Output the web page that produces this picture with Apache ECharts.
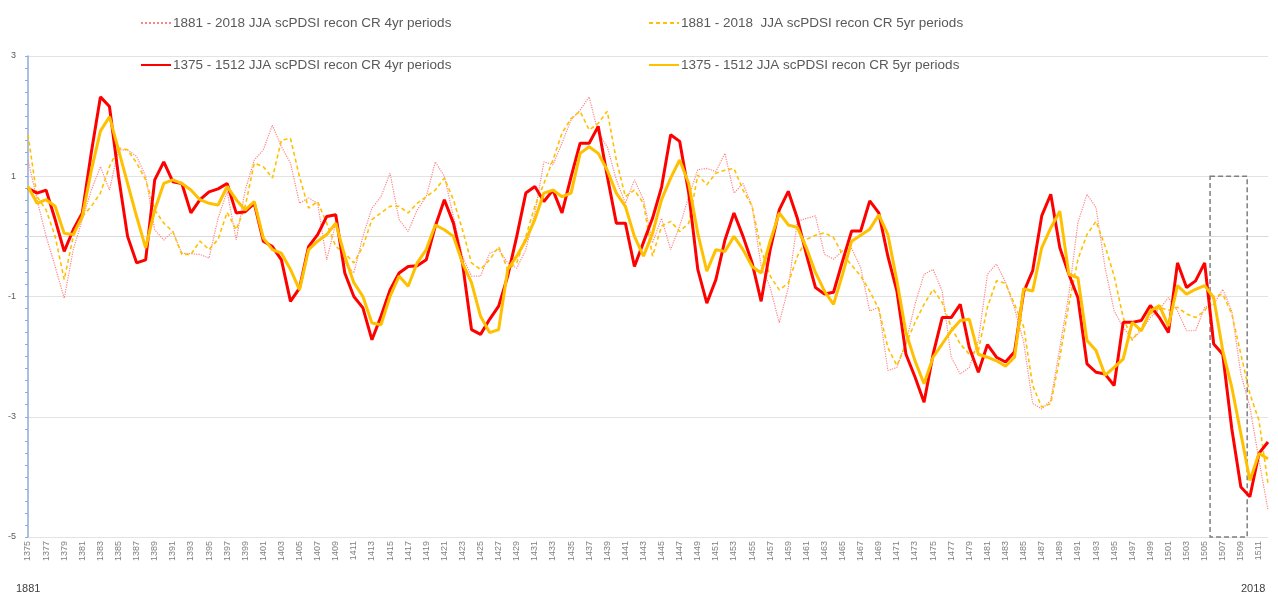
<!DOCTYPE html>
<html>
<head>
<meta charset="utf-8">
<script src="https://cdn.jsdelivr.net/npm/echarts@6/dist/echarts.min.js"></script>
<style>
  html, body { margin: 0; padding: 0; background: #fff; }
  #chart { width: 1278px; height: 598px; }
</style>
</head>
<body>
<div id="chart"></div>
<script>
// categories: 1375 .. 1512
var years = []
for (var y = 1375; y <= 1512; y++) years.push(String(y))

var yTicks = [-5, -3, -1, 1, 3]

// dashed highlight box, in category index units (1505.6 .. 1509.7) and y values
var boxX = [130.6, 134.7]
var boxY = [1, -5]

// 1881 - 2018 JJA scPDSI recon CR 4yr periods (dotted)
var modern4yr = [
  1.27, 0.61, 0.0, -0.5, -1.03, -0.22, 0.28, 0.77, 1.16, 0.77,
  1.44, 1.44, 1.33, 1.0, 0.11, -0.06, 0.08, -0.28, -0.29, -0.3,
  -0.36, 0.3, 0.75, -0.06, 0.77, 1.27, 1.44, 1.85, 1.49, 1.22,
  0.55, 0.64, 0.55, -0.39, 0.22, -0.44, -0.61, 0.0, 0.47, 0.66,
  1.05, 0.28, 0.08, 0.44, 0.66, 1.24, 1.0, 0.33, -0.33, -0.66,
  -0.66, -0.28, -0.22, -0.44, -0.53, -0.22, 0.39, 1.24, 1.19, 1.55,
  1.94, 2.1, 2.32, 1.72, 1.49, 0.94, 0.55, 0.94, 0.61, -0.11,
  0.3, -0.22, 0.17, 0.66, 1.11, 1.13, 1.08, 1.38, 0.72, 0.88,
  0.5, -0.5, -0.85, -1.44, -0.85, 0.25, 0.3, 0.34, -0.3, -0.38,
  -0.24, -0.2, -0.52, -1.24, -1.18, -2.23, -2.18, -1.76, -1.13, -0.63,
  -0.55, -0.91, -2.01, -2.29, -2.18, -1.73, -0.63, -0.46, -0.76, -1.2,
  -1.75, -2.78, -2.87, -2.73, -1.85, -0.96, 0.23, 0.70, 0.48, -0.52,
  -1.24, -1.51, -1.71, -1.57, -1.35, -1.21, -1.02, -1.24, -1.57, -1.57,
  -1.18, -1.13, -0.88, -1.24, -2.29, -2.84, -3.72, -4.55
]

// 1881 - 2018 JJA scPDSI recon CR 5yr periods (dashed)
var modern5yr = [
  1.69, 0.66, 0.44, 0.0, -0.72, 0.0, 0.33, 0.5, 0.72, 1.16,
  1.47, 1.44, 1.22, 0.94, 0.44, 0.22, 0.08, -0.3, -0.3, -0.08,
  -0.22, -0.05, 0.4, 0.11, 0.5, 1.22, 1.16, 0.97, 1.6, 1.63,
  0.99, 0.47, 0.58, 0.22, -0.17, -0.28, -0.44, -0.17, 0.28, 0.39,
  0.5, 0.5, 0.39, 0.55, 0.66, 0.77, 0.97, 0.61, 0.11, -0.44,
  -0.55, -0.39, -0.17, -0.55, -0.44, 0.0, 0.5, 0.88, 1.27, 1.72,
  1.96, 2.08, 1.77, 1.88, 2.08, 1.27, 0.66, 0.77, 0.55, -0.33,
  0.17, 0.25, 0.08, 0.22, 1.02, 0.86, 1.05, 1.1, 1.13, 0.77,
  0.5, -0.22, -0.66, -0.89, -0.78, -0.33, -0.05, 0.02, 0.06, -0.02,
  -0.3, -0.48, -0.66, -0.91, -1.21, -1.85, -2.15, -1.79, -1.43, -1.13,
  -0.88, -1.1, -1.51, -1.79, -1.96, -1.9, -1.18, -0.74, -0.78, -1.13,
  -1.5, -2.48, -2.84, -2.78, -2.01, -1.13, -0.38, 0.03, 0.25, -0.16,
  -0.66, -1.35, -1.73, -1.51, -1.29, -1.18, -1.23, -1.18, -1.29, -1.35,
  -1.24, -1.0, -0.96, -1.29, -1.96, -2.62, -3.06, -4.11
]

// 1375 - 1512 JJA scPDSI recon CR 4yr periods (thick red)
var medieval4yr = [
  0.80, 0.72, 0.77, 0.28, -0.25, 0.11, 0.39, 1.4, 2.32, 2.16,
  1.0, 0.0, -0.44, -0.39, 0.94, 1.24, 0.91, 0.88, 0.39, 0.61,
  0.74, 0.79, 0.88, 0.39, 0.41, 0.55, -0.08, -0.17, -0.39, -1.08,
  -0.86, -0.17, 0.03, 0.33, 0.36, -0.61, -1.0, -1.19, -1.72, -1.33,
  -0.89, -0.61, -0.50, -0.49, -0.39, 0.17, 0.61, 0.22, -0.44, -1.55,
  -1.63, -1.38, -1.16, -0.66, 0.0, 0.72, 0.83, 0.58, 0.77, 0.39,
  0.99, 1.55, 1.55, 1.83, 1.0, 0.22, 0.22, -0.5, -0.1, 0.3,
  0.82, 1.69, 1.58, 0.72, -0.55, -1.11, -0.72, -0.06, 0.39, 0.0,
  -0.44, -1.08, -0.22, 0.44, 0.75, 0.3, -0.3, -0.85, -0.96, -0.93,
  -0.41, 0.09, 0.09, 0.59, 0.39, -0.33, -0.91, -1.96, -2.34, -2.76,
  -1.96, -1.35, -1.35, -1.13, -1.85, -2.26, -1.8, -2.01, -2.09, -1.92,
  -0.93, -0.57, 0.34, 0.70, -0.19, -0.63, -1.02, -2.12, -2.26, -2.29,
  -2.48, -1.43, -1.43, -1.40, -1.15, -1.35, -1.6, -0.44, -0.85, -0.74,
  -0.44, -1.79, -1.96, -3.2, -4.17, -4.33, -3.61, -3.42
]

// 1375 - 1512 JJA scPDSI recon CR 5yr periods (thick orange)
var medieval5yr = [
  0.83, 0.55, 0.61, 0.5, 0.05, 0.03, 0.33, 1.1, 1.75, 1.99,
  1.44, 0.88, 0.33, -0.19, 0.44, 0.88, 0.94, 0.88, 0.77, 0.61,
  0.55, 0.52, 0.83, 0.61, 0.44, 0.58, -0.03, -0.22, -0.28, -0.55,
  -0.89, -0.22, -0.08, 0.03, 0.22, -0.33, -0.77, -1.0, -1.44, -1.47,
  -1.0, -0.66, -0.83, -0.44, -0.22, 0.19, 0.11, 0.0, -0.44, -0.77,
  -1.33, -1.6, -1.55, -0.55, -0.33, -0.06, 0.28, 0.72, 0.77, 0.66,
  0.72, 1.38, 1.49, 1.38, 1.1, 0.72, 0.5, 0.0, -0.33, 0.05,
  0.61, 0.97, 1.27, 0.88, 0.05, -0.58, -0.22, -0.25, 0.0, -0.22,
  -0.5, -0.61, -0.08, 0.39, 0.19, 0.15, -0.19, -0.6, -0.91, -1.13,
  -0.63, -0.08, 0.02, 0.12, 0.36, 0.03, -0.74, -1.6, -2.07, -2.45,
  -2.01, -1.79, -1.57, -1.4, -1.38, -1.96, -2.01, -2.07, -2.16, -2.01,
  -0.87, -0.91, -0.19, 0.14, 0.42, -0.63, -0.69, -1.73, -1.9, -2.31,
  -2.18, -2.04, -1.43, -1.57, -1.24, -1.15, -1.49, -0.82, -0.96, -0.88,
  -0.82, -1.02, -1.9, -2.51, -3.28, -4.06, -3.61, -3.7
]

var names = [
  '1881 - 2018 JJA scPDSI recon CR 4yr periods',
  '1881 - 2018  JJA scPDSI recon CR 5yr periods',
  '1375 - 1512 JJA scPDSI recon CR 4yr periods',
  '1375 - 1512 JJA scPDSI recon CR 5yr periods'
]

var fontFamily = '"Liberation Sans", Arial, sans-serif'
var textColor = '#595959'

function legendAt(name, left, top) {
  return {
    data: [name],
    left: left,
    top: top,
    itemWidth: 30,
    itemHeight: 14,
    itemGap: 2,
    selectedMode: false,
    itemStyle: { opacity: 0 },
    textStyle: { fontSize: 13.5, color: textColor, fontFamily: fontFamily, padding: [0, 0, 0, -3] }
  }
}

var chart = echarts.init(document.getElementById('chart'))

var option = {
  animation: false,
  backgroundColor: '#fff',
  legend: [
    legendAt(names[0], 135, 11),
    legendAt(names[1], 643, 11),
    legendAt(names[2], 135, 53),
    legendAt(names[3], 643, 53)
  ],
  grid: { left: 28, right: 10, top: 56, bottom: 61, containLabel: false },
  xAxis: [
    {
      type: 'category',
      data: years,
      boundaryGap: false,
      axisLine: { lineStyle: { color: '#d9d9d9' } },
      axisTick: { show: false },
      axisLabel: {
        interval: 1,
        rotate: 90,
        fontSize: 9,
        color: '#7f7f7f',
        fontFamily: fontFamily,
        margin: 4
      },
      splitLine: { show: false }
    },
    {
      // hidden helper axis spanning the same category range, for the box
      type: 'value',
      min: 0,
      max: years.length - 1,
      show: false
    }
  ],
  yAxis: {
    type: 'value',
    min: -5,
    max: 3,
    interval: 2,
    axisLine: { show: true, lineStyle: { color: '#8faadc', width: 1.5 } },
    axisTick: { show: true, length: 3, lineStyle: { color: '#8faadc' } },
    minorTick: { show: true, splitNumber: 10, length: 3, lineStyle: { color: '#8faadc' } },
    axisLabel: {
      fontSize: 9,
      color: textColor,
      fontFamily: fontFamily,
      margin: 12,
      formatter: function (v) { return yTicks.indexOf(v) >= 0 ? String(v) : '' }
    },
    splitLine: { lineStyle: { color: '#e3e3e3', width: 1 } }
  },
  graphic: [
    { type: 'text', left: 16, top: 583, style: { text: '1881', fontSize: 11, fill: '#404040', fontFamily: fontFamily } },
    { type: 'text', left: 1241, top: 583, style: { text: '2018', fontSize: 11, fill: '#404040', fontFamily: fontFamily } }
  ],
  series: [
    {
      name: names[0],
      type: 'line',
      data: modern4yr,
      symbol: 'none',
      color: '#ff8585',
      lineStyle: { width: 1.2, type: 'dotted', color: '#ff8585' },
      z: 2
    },
    {
      name: names[1],
      type: 'line',
      data: modern5yr,
      symbol: 'none',
      color: '#ffc000',
      lineStyle: { width: 1.6, type: [4, 3], color: '#ffc000' },
      z: 3
    },
    {
      name: names[2],
      type: 'line',
      data: medieval4yr,
      symbol: 'none',
      color: '#ff0000',
      lineStyle: { width: 3, color: '#ff0000' },
      z: 4
    },
    {
      name: names[3],
      type: 'line',
      data: medieval5yr,
      symbol: 'none',
      color: '#ffc000',
      lineStyle: { width: 3, color: '#ffc000' },
      z: 5
    },
    {
      name: 'box',
      type: 'line',
      xAxisIndex: 1,
      data: [],
      symbol: 'none',
      silent: true,
      z: 6,
      markArea: {
        silent: true,
        itemStyle: {
          color: 'rgba(0,0,0,0)',
          borderColor: '#7f7f7f',
          borderWidth: 1.5,
          borderType: [5, 3]
        },
        data: [[{ xAxis: boxX[0], yAxis: boxY[0] }, { xAxis: boxX[1], yAxis: boxY[1] }]]
      }
    }
  ]
}

chart.setOption(option)
</script>
</body>
</html>
